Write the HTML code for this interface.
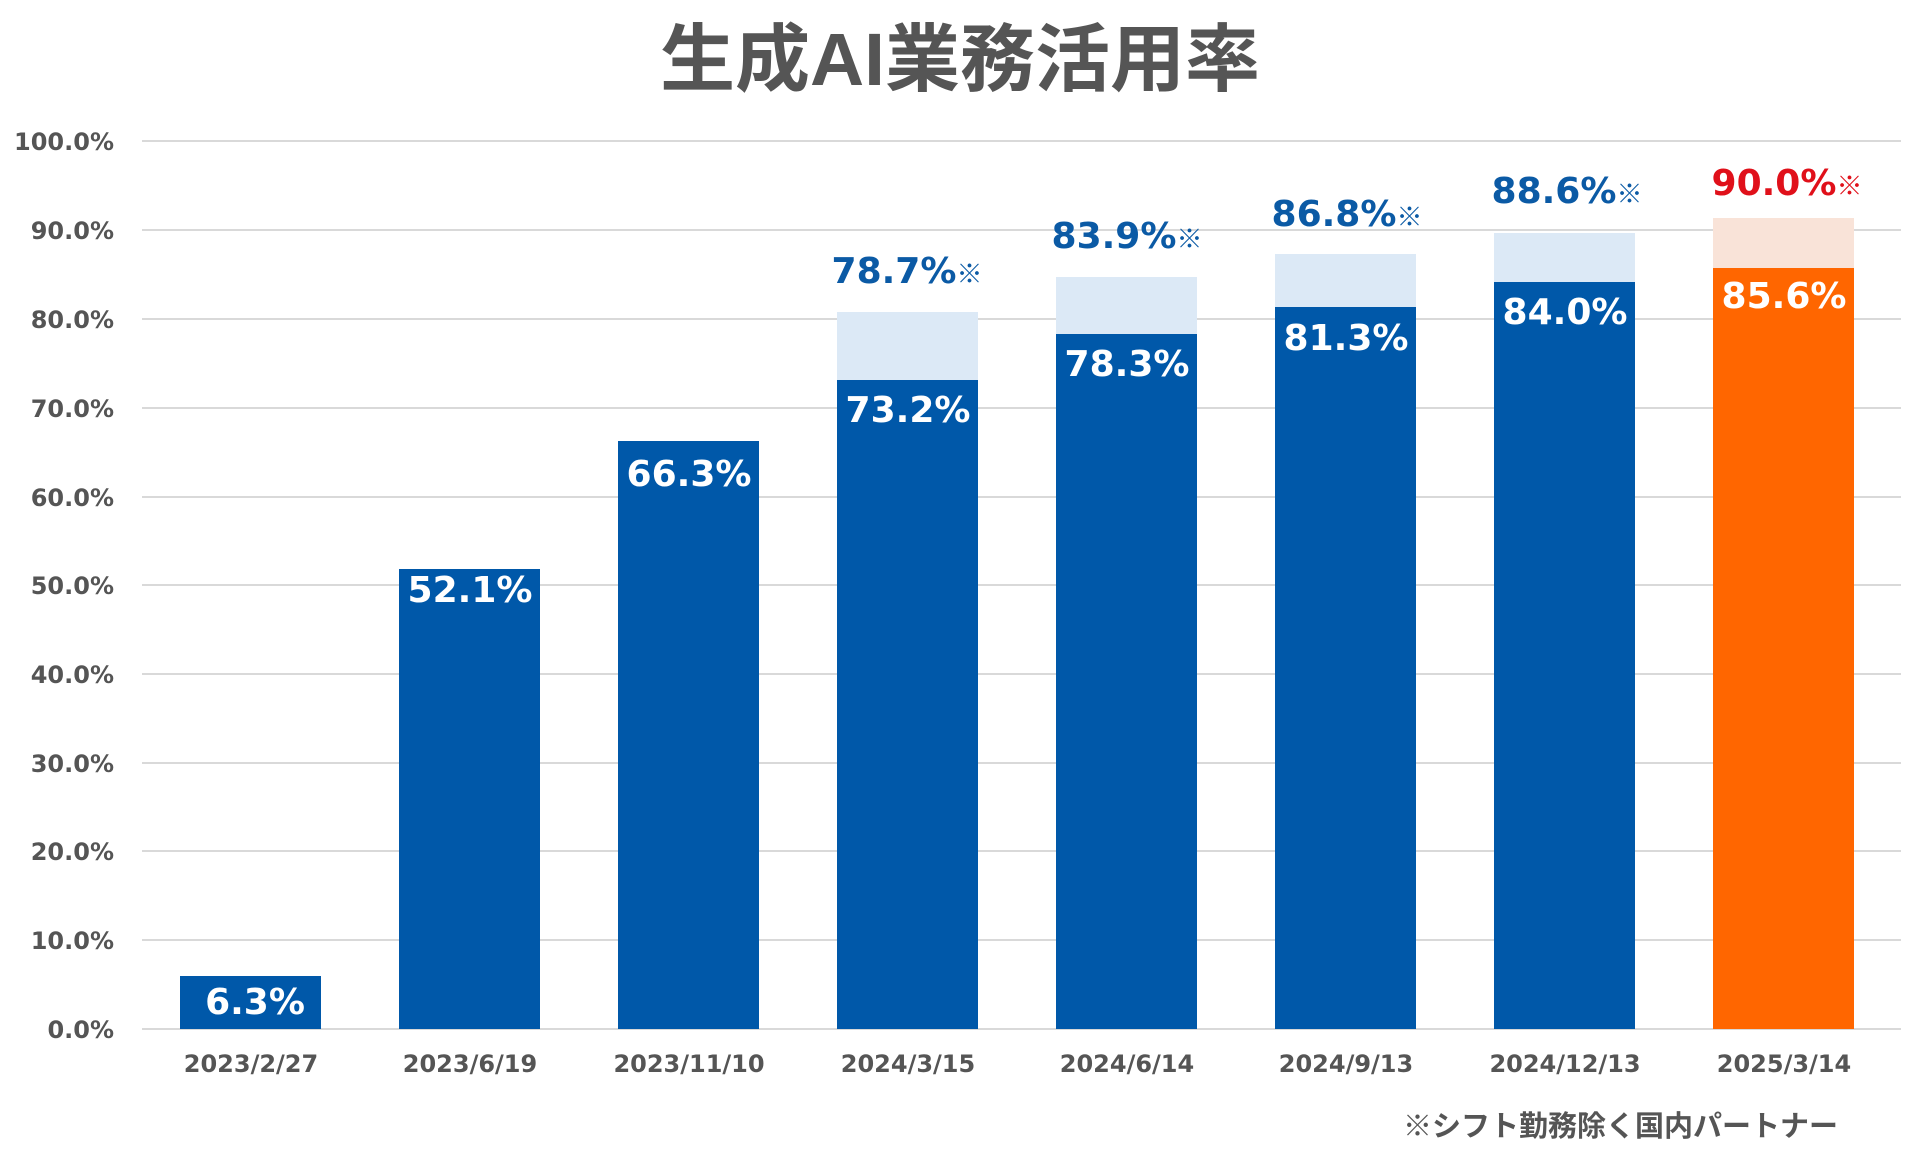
<!DOCTYPE html>
<html><head><meta charset="utf-8"><style>
html,body{margin:0;padding:0;background:#fff;width:1920px;height:1160px;overflow:hidden}
svg{display:block}
text{font-weight:bold}
.ax{font-family:"DejaVu Sans","Liberation Sans",sans-serif;font-size:24px;fill:#555}
.in{font-family:"DejaVu Sans","Liberation Sans",sans-serif;font-size:36px;fill:#fff}
.top{font-family:"DejaVu Sans","Liberation Sans",sans-serif;font-size:36px;fill:#0b5aa5}
.kome{font-family:"Noto Sans CJK JP",sans-serif;font-size:26px}
</style></head><body>
<svg width="1920" height="1160" viewBox="0 0 1920 1160">
<text x="960" y="85" text-anchor="middle" textLength="600" lengthAdjust="spacingAndGlyphs" style="font-family:'Liberation Sans','Noto Sans CJK JP',sans-serif;font-size:74px;fill:#555">生成AI業務活用率</text>
<g stroke="#d9d9d9" stroke-width="2">
<line x1="142" x2="1901" y1="141" y2="141"/><line x1="142" x2="1901" y1="230" y2="230"/>
<line x1="142" x2="1901" y1="319" y2="319"/><line x1="142" x2="1901" y1="408" y2="408"/>
<line x1="142" x2="1901" y1="497" y2="497"/><line x1="142" x2="1901" y1="585" y2="585"/>
<line x1="142" x2="1901" y1="674" y2="674"/><line x1="142" x2="1901" y1="763" y2="763"/>
<line x1="142" x2="1901" y1="851" y2="851"/><line x1="142" x2="1901" y1="940" y2="940"/>
<line x1="142" x2="1901" y1="1029" y2="1029"/>
</g>
<g class="ax" text-anchor="end">
<text x="114" y="150">100.0%</text><text x="114" y="239">90.0%</text><text x="114" y="328">80.0%</text>
<text x="114" y="417">70.0%</text><text x="114" y="506">60.0%</text><text x="114" y="594">50.0%</text>
<text x="114" y="683">40.0%</text><text x="114" y="772">30.0%</text><text x="114" y="860">20.0%</text>
<text x="114" y="949">10.0%</text><text x="114" y="1038">0.0%</text>
</g>
<g fill="#dce9f6">
<rect x="837" y="312" width="141" height="100"/>
<rect x="1056" y="277" width="141" height="100"/>
<rect x="1275" y="254" width="141" height="100"/>
<rect x="1494" y="233" width="141" height="100"/>
</g>
<rect x="1713" y="218" width="141" height="100" fill="#f9e3d8"/>
<g fill="#0058a9">
<rect x="180" y="976" width="141" height="53"/>
<rect x="399" y="569" width="141" height="460"/>
<rect x="618" y="441" width="141" height="588"/>
<rect x="837" y="380" width="141" height="649"/>
<rect x="1056" y="334" width="141" height="695"/>
<rect x="1275" y="307" width="141" height="722"/>
<rect x="1494" y="282" width="141" height="747"/>
</g>
<rect x="1713" y="268" width="141" height="761" fill="#ff6600"/>
<g class="in" text-anchor="middle">
<text x="255" y="1014">6.3%</text>
<text x="470" y="602">52.1%</text>
<text x="689" y="486">66.3%</text>
<text x="908" y="422">73.2%</text>
<text x="1127" y="376">78.3%</text>
<text x="1346" y="350">81.3%</text>
<text x="1565" y="324">84.0%</text>
<text x="1784" y="308">85.6%</text>
</g>
<g class="top" text-anchor="middle">
<text x="907" y="283">78.7%<tspan class="kome">※</tspan></text>
<text x="1127" y="248">83.9%<tspan class="kome">※</tspan></text>
<text x="1347" y="226">86.8%<tspan class="kome">※</tspan></text>
<text x="1567" y="203">88.6%<tspan class="kome">※</tspan></text>
<text x="1787" y="195" style="fill:#e0101a">90.0%<tspan class="kome">※</tspan></text>
</g>
<g class="ax" text-anchor="middle">
<text x="251" y="1072">2023/2/27</text><text x="470" y="1072">2023/6/19</text>
<text x="689" y="1072">2023/11/10</text><text x="908" y="1072">2024/3/15</text>
<text x="1127" y="1072">2024/6/14</text><text x="1346" y="1072">2024/9/13</text>
<text x="1565" y="1072">2024/12/13</text><text x="1784" y="1072">2025/3/14</text>
</g>
<text x="1838" y="1136" text-anchor="end" style="font-family:'Liberation Sans','Noto Sans CJK JP',sans-serif;font-size:29px;fill:#555">※シフト勤務除く国内パートナー</text>
</svg>
</body></html>
